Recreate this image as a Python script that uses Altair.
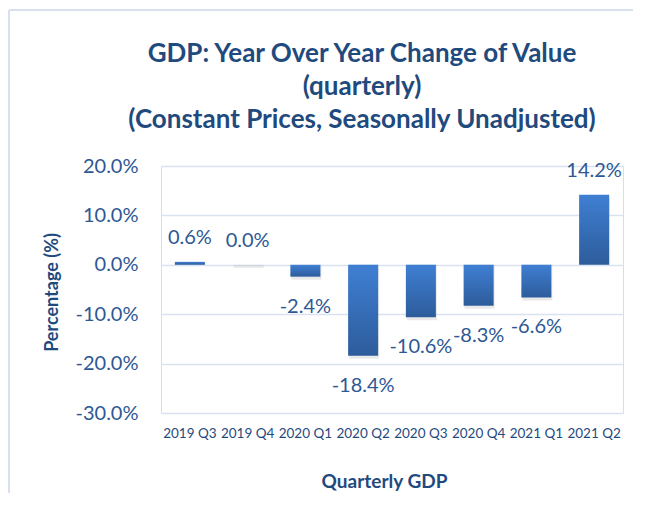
import altair as alt
import pandas as pd

quarters = ["2019 Q3", "2019 Q4", "2020 Q1", "2020 Q2", "2020 Q3", "2020 Q4", "2021 Q1", "2021 Q2"]
values = [0.006, 0.000, -0.024, -0.184, -0.106, -0.083, -0.066, 0.142]
y_ticks = [-0.3, -0.2, -0.1, 0.0, 0.1, 0.2]

df = pd.DataFrame({"q": quarters, "v": values})

FONT = "Lato"
TITLE_C = "#1F4A7E"
LABEL_C = "#2E5894"

W, H = 462, 247

x_enc = alt.X("q:N", sort=quarters,
              scale=alt.Scale(paddingInner=0.48, paddingOuter=0.24),
              axis=alt.Axis(title="Quarterly GDP", labelAngle=0, labelFontSize=13.5,
                            labelColor=TITLE_C, labelFont=FONT, labelPadding=13,
                            domain=False, ticks=False, grid=False,
                            titleFont=FONT, titleFontSize=19, titleFontWeight="bold",
                            titleColor=TITLE_C, titleX=223, titleY=68,
                            titleAlign="center", titleBaseline="middle"))
y_scale = alt.Scale(domain=[-0.3, 0.2], nice=False, zero=False)
y_enc = alt.Y("v:Q", scale=y_scale,
              axis=alt.Axis(title="Percentage (%)", values=y_ticks,
                            labelExpr="replace(format(datum.value, '.1%'), '\u2212', '-')",
                            labelFontSize=20, labelFont=FONT, labelColor=LABEL_C,
                            labelPadding=23, domain=False, ticks=False,
                            gridColor="#D9E2F1", gridWidth=1.5,
                            titleFont=FONT, titleFontSize=18, titleFontWeight="bold",
                            titleColor=TITLE_C, titleAngle=-90, titleX=-109, titleY=126,
                            titleAlign="center", titleBaseline="middle"))

base = alt.Chart(df).transform_calculate(
    lbl="replace(format(datum.v, '.1%'), '\u2212', '-')"
)

shadow = base.mark_bar(color="#BFBFBF", opacity=0.35, yOffset=3, xOffset=1).encode(
    x=x_enc, y=alt.Y("v:Q", scale=y_scale), y2=alt.datum(0)
)

bars = base.mark_bar(
    color=alt.Gradient(gradient="linear", x1=0, y1=0, x2=0, y2=1,
                       stops=[alt.GradientStop(offset=0, color="#3F7FD3"),
                              alt.GradientStop(offset=1, color="#2D5C9B")])
).encode(x=x_enc, y=y_enc, y2=alt.datum(0))

pos_labels = base.transform_filter("datum.v >= 0").mark_text(
    font=FONT, fontSize=20, color=LABEL_C, baseline="middle", dy=-24
).encode(x=alt.X("q:N", sort=quarters), y=alt.Y("v:Q", scale=y_scale),
         text="lbl:N")

neg_labels = base.transform_filter("datum.v < 0").mark_text(
    font=FONT, fontSize=20, color=LABEL_C, baseline="middle", dy=30
).encode(x=alt.X("q:N", sort=quarters), y=alt.Y("v:Q", scale=y_scale),
         text="lbl:N")

border_top = base.mark_rule(color="#D6E0EE", strokeWidth=2).encode(
    x=alt.value(-152), x2=alt.value(480), y=alt.value(-156))
border_left = base.mark_rule(color="#D6E0EE", strokeWidth=2).encode(
    x=alt.value(-152), y=alt.value(-156), y2=alt.value(340))

chart = alt.layer(border_top, border_left, shadow, bars, pos_labels, neg_labels).properties(
    width=W, height=H,
    padding={"left": 153, "top": 158, "right": 10, "bottom": 80},
    autosize=alt.AutoSizeParams(type="none"),
    title=alt.TitleParams(
        text=["GDP: Year Over Year Change of Value", "(quarterly)",
              "(Constant Prices, Seasonally Unadjusted)"],
        font=FONT, fontSize=26, fontWeight="bold", color=TITLE_C,
        anchor="middle", dx=-30, dy=124, lineHeight=33, offset=0),
).configure_view(stroke=None).configure(background="white")

chart.save("out.html", embed_options={"renderer": "svg", "actions": False})
